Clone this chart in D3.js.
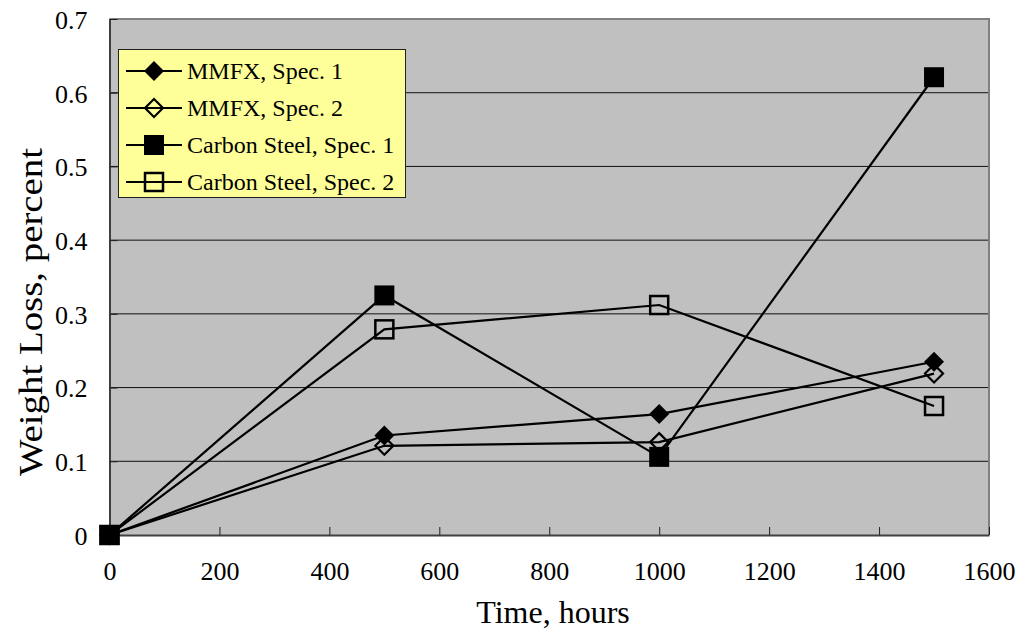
<!DOCTYPE html>
<html><head><meta charset="utf-8">
<script src="https://cdn.jsdelivr.net/npm/d3@7"></script>
<style>html,body{margin:0;padding:0;background:#fff;}svg{display:block;} text{font-family:"Liberation Serif";}</style>
</head><body>
<svg id="c" width="1019" height="631"></svg>
<script>
const hours = [0, 500, 1000, 1500];
const mmfx1 = [0, 0.135, 0.164, 0.235];
const mmfx2 = [0, 0.121, 0.126, 0.219];
const cs1 = [0, 0.325, 0.106, 0.621];
const cs2 = [0, 0.279, 0.312, 0.175];
const seriesNames = ["MMFX, Spec. 1", "MMFX, Spec. 2", "Carbon Steel, Spec. 1", "Carbon Steel, Spec. 2"];
const xTicks = [0, 200, 400, 600, 800, 1000, 1200, 1400, 1600];
const yTicks = [0, 0.1, 0.2, 0.3, 0.4, 0.5, 0.6, 0.7];
const xTitle = "Time, hours";
const yTitle = "Weight Loss, percent";

const series = [
  {name: seriesNames[0], values: mmfx1, shape: "diamond", filled: true},
  {name: seriesNames[1], values: mmfx2, shape: "diamond", filled: false},
  {name: seriesNames[2], values: cs1, shape: "square", filled: true},
  {name: seriesNames[3], values: cs2, shape: "square", filled: false}
];

const svg = d3.select("#c");
const L = 109.5, R = 989, T = 19, B = 535;
const x = d3.scaleLinear().domain([0, 1600]).range([L, R]);
const y = d3.scaleLinear().domain([0, 0.7]).range([B, T]);
const font = "Liberation Serif";

svg.append("rect").attr("x", L).attr("y", T).attr("width", R - L).attr("height", B - T)
  .attr("fill", "#c0c0c0");

svg.append("g").selectAll("line").data(yTicks.filter(d => d > 0 && d < 0.7)).join("line")
  .attr("x1", L).attr("x2", R).attr("y1", d => y(d)).attr("y2", d => y(d))
  .attr("stroke", "#111").attr("stroke-width", 1);

svg.append("path").attr("d", `M${L},${T}H${R}V${B}`).attr("fill", "none")
  .attr("stroke", "#808080").attr("stroke-width", 2);

const xAxis = d3.axisBottom(x).tickValues(xTicks).tickSizeInner(-8).tickSizeOuter(0).tickPadding(27)
  .tickFormat(d3.format("d"));
const gx = svg.append("g").attr("transform", `translate(0,${B})`).call(xAxis);
gx.select(".domain").attr("stroke", "#404040").attr("stroke-width", 2);
gx.selectAll(".tick line").attr("stroke", "#202020");
gx.selectAll("text").style("font-family", font).attr("font-size", 26).attr("fill", "#000")
  .attr("dy", "0.71em");

const yAxis = d3.axisLeft(y).tickValues(yTicks).tickSizeInner(-8).tickSizeOuter(0).tickPadding(22)
  .tickFormat(d => d === 0 ? "0" : d3.format(".1f")(d));
const gy = svg.append("g").attr("transform", `translate(${L},0)`).call(yAxis);
gy.select(".domain").attr("stroke", "#404040").attr("stroke-width", 2);
gy.selectAll(".tick line").attr("stroke", "#202020");
gy.selectAll("text").style("font-family", font).attr("font-size", 26).attr("fill", "#000")
  .attr("dy", "0.36em");

svg.append("text").attr("x", 553).attr("y", 623).attr("text-anchor", "middle")
  .style("font-family", font).attr("font-size", 32).attr("fill", "#000").text(xTitle);
svg.append("text").attr("transform", `translate(42,312) rotate(-90)`).attr("text-anchor", "middle")
  .style("font-family", font).attr("font-size", 33).attr("fill", "#000")
  .attr("textLength", 328).attr("lengthAdjust", "spacingAndGlyphs").text(yTitle);

function drawMarker(g, s, cx, cy) {
  if (s.shape === "square") {
    const a = s.filled ? 20 : 18;
    g.append("rect").attr("x", cx - a / 2).attr("y", cy - a / 2).attr("width", a).attr("height", a)
      .attr("fill", s.filled ? "#000" : "none").attr("stroke", "#000").attr("stroke-width", s.filled ? 0 : 2.5);
  } else {
    const r = s.filled ? 10 : 9;
    g.append("path").attr("d", `M${cx},${cy - r}L${cx + r},${cy}L${cx},${cy + r}L${cx - r},${cy}Z`)
      .attr("fill", s.filled ? "#000" : "none").attr("stroke", "#000").attr("stroke-width", s.filled ? 0 : 2.2);
  }
}

const line = d3.line().x(d => x(d[0])).y(d => y(d[1]));
series.forEach(s => {
  const g = svg.append("g");
  const pts = hours.map((h, i) => [h, s.values[i]]);
  g.append("path").attr("d", line(pts)).attr("fill", "none").attr("stroke", "#000").attr("stroke-width", 2.2);
  pts.forEach(p => drawMarker(g, s, x(p[0]), y(p[1])));
});

const lg = svg.append("g");
lg.append("rect").attr("x", 118.5).attr("y", 49.5).attr("width", 287).attr("height", 148)
  .attr("fill", "#ffff99").attr("stroke", "#202020").attr("stroke-width", 1);
series.forEach((s, i) => {
  const cy = 71 + i * 37;
  const g = lg.append("g");
  g.append("line").attr("x1", 126).attr("x2", 182).attr("y1", cy).attr("y2", cy)
    .attr("stroke", "#000").attr("stroke-width", 2.2);
  drawMarker(g, s, 154, cy);
  g.append("text").attr("x", 187).attr("y", cy + 8).style("font-family", font).attr("font-size", 24)
    .attr("fill", "#000").text(s.name);
});
</script>
</body></html>
